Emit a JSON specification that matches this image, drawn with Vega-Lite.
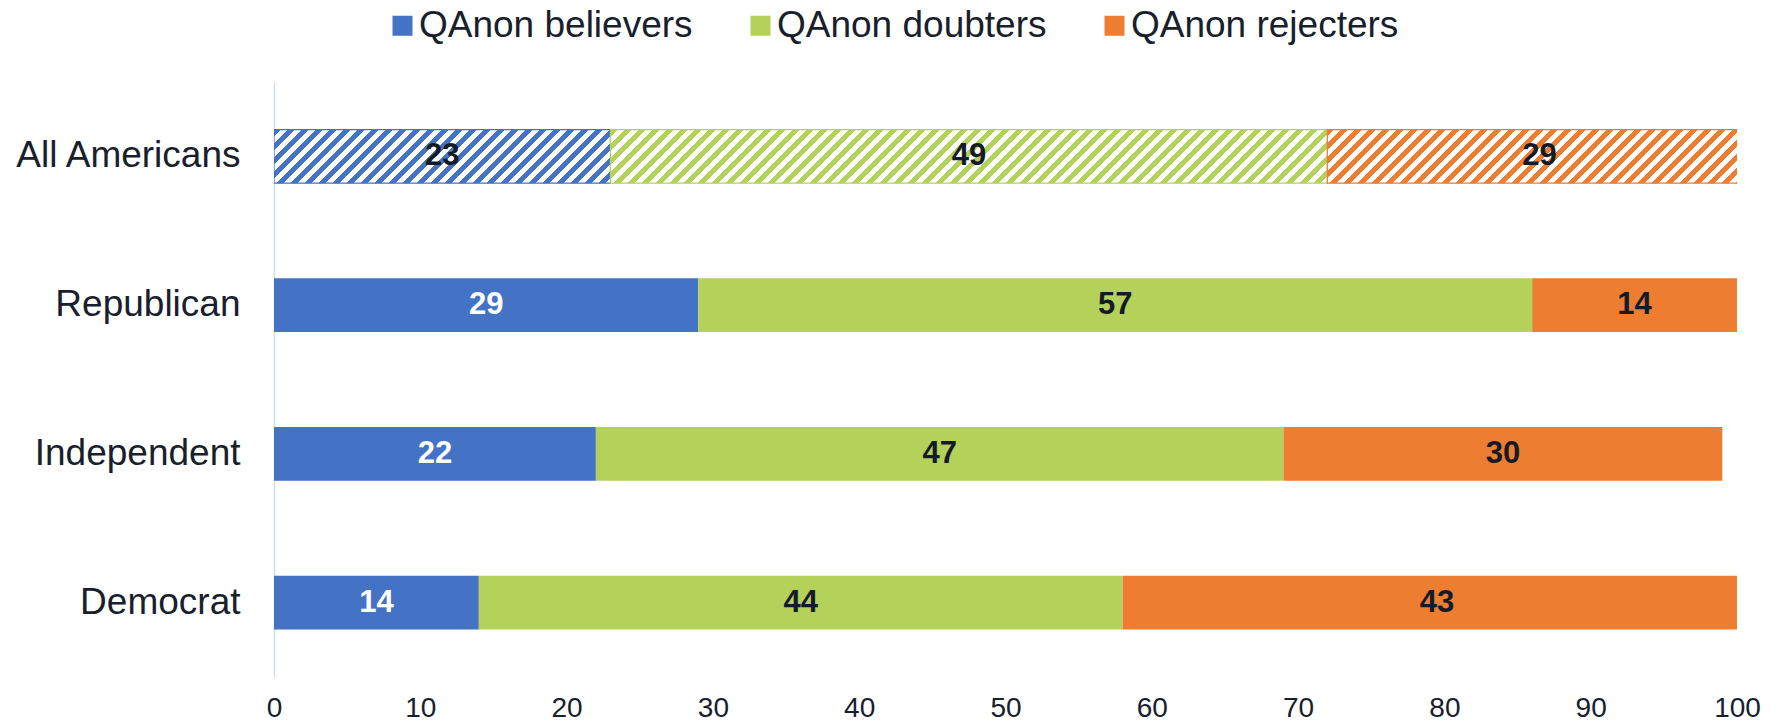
{
"$schema":"https://vega.github.io/schema/vega-lite/v6.json",
"width":1463,"height":595,
"autosize":{"type":"none"},
"padding":{"left":274,"top":82,"right":44,"bottom":45},
"background":"white",
"config":{
 "view":{"stroke":null},
 "font":"Liberation Sans",
 "axisX":{"labelFontSize":28,"labelColor":"#18202c","labelPadding":17,"ticks":false,"tickSize":0,"domain":false,"grid":false,"labelFlush":false,"tickCount":10,"labelFont":"Liberation Sans"},
 "axisY":{"labelFontSize":37,"labelColor":"#18202c","labelPadding":34,"labelLimit":0,"ticks":false,"tickSize":0,"domain":true,"domainColor":"#d3ddec","domainWidth":1.5,"grid":false,"labelFont":"Liberation Sans"}
},
"data":{"values":[
 {"group":"All Americans","category":"QAnon believers","value":23},
 {"group":"All Americans","category":"QAnon doubters","value":49},
 {"group":"All Americans","category":"QAnon rejecters","value":29},
 {"group":"Republican","category":"QAnon believers","value":29},
 {"group":"Republican","category":"QAnon doubters","value":57},
 {"group":"Republican","category":"QAnon rejecters","value":14},
 {"group":"Independent","category":"QAnon believers","value":22},
 {"group":"Independent","category":"QAnon doubters","value":47},
 {"group":"Independent","category":"QAnon rejecters","value":30},
 {"group":"Democrat","category":"QAnon believers","value":14},
 {"group":"Democrat","category":"QAnon doubters","value":44},
 {"group":"Democrat","category":"QAnon rejecters","value":43}
]},
"transform":[{"stack":"value","groupby":["group"],"sort":[{"field":"category","order":"ascending"}],"as":["x0","x1"]}],
"encoding":{
 "y":{"field":"group","type":"nominal","sort":["All Americans","Republican","Independent","Democrat"],"scale":{"paddingInner":0.64,"paddingOuter":0.32},"title":null}
},
"layer":[
 {"transform":[{"filter":"datum.group !== 'All Americans'"}],
  "mark":{"type":"bar","clip":true},
  "encoding":{
   "x":{"field":"x0","type":"quantitative","scale":{"domain":[0,100],"nice":false,"zero":true},"title":null},
   "x2":{"field":"x1"},
   "color":{"field":"category","type":"nominal","scale":{"domain":["QAnon believers","QAnon doubters","QAnon rejecters"],"range":["#4472C4","#B4D25A","#ED7D31"]},
     "legend":{"orient":"none","legendX":110,"legendY":-75,"direction":"horizontal","title":null,"symbolType":"square","symbolSize":400,"labelFontSize":37,"labelOffset":-2,"columnPadding":49,"padding":0,"labelColor":"#18202c","symbolStrokeWidth":0,"labelLimit":0,"symbolOpacity":1}}
  }},
 {"transform":[{"filter":"datum.group === 'All Americans' && datum.category === 'QAnon believers'"}],
  "mark":{"type":"bar","clip":true,"stroke":"#4472C4","strokeWidth":1.2,"fill":{"gradient":"linear","x1":0,"y1":0,"x2":1.1362,"y2":0.1808,"stops":[
{"offset":0,"color":"#4472C4"},{"offset":0.0179,"color":"#4472C4"},{"offset":0.0179,"color":"#fff"},{"offset":0.0357,"color":"#fff"},
{"offset":0.0357,"color":"#4472C4"},{"offset":0.0536,"color":"#4472C4"},{"offset":0.0536,"color":"#fff"},{"offset":0.0714,"color":"#fff"},
{"offset":0.0714,"color":"#4472C4"},{"offset":0.0893,"color":"#4472C4"},{"offset":0.0893,"color":"#fff"},{"offset":0.1071,"color":"#fff"},
{"offset":0.1071,"color":"#4472C4"},{"offset":0.125,"color":"#4472C4"},{"offset":0.125,"color":"#fff"},{"offset":0.1429,"color":"#fff"},
{"offset":0.1429,"color":"#4472C4"},{"offset":0.1607,"color":"#4472C4"},{"offset":0.1607,"color":"#fff"},{"offset":0.1786,"color":"#fff"},
{"offset":0.1786,"color":"#4472C4"},{"offset":0.1964,"color":"#4472C4"},{"offset":0.1964,"color":"#fff"},{"offset":0.2143,"color":"#fff"},
{"offset":0.2143,"color":"#4472C4"},{"offset":0.2321,"color":"#4472C4"},{"offset":0.2321,"color":"#fff"},{"offset":0.25,"color":"#fff"},
{"offset":0.25,"color":"#4472C4"},{"offset":0.2679,"color":"#4472C4"},{"offset":0.2679,"color":"#fff"},{"offset":0.2857,"color":"#fff"},
{"offset":0.2857,"color":"#4472C4"},{"offset":0.3036,"color":"#4472C4"},{"offset":0.3036,"color":"#fff"},{"offset":0.3214,"color":"#fff"},
{"offset":0.3214,"color":"#4472C4"},{"offset":0.3393,"color":"#4472C4"},{"offset":0.3393,"color":"#fff"},{"offset":0.3571,"color":"#fff"},
{"offset":0.3571,"color":"#4472C4"},{"offset":0.375,"color":"#4472C4"},{"offset":0.375,"color":"#fff"},{"offset":0.3929,"color":"#fff"},
{"offset":0.3929,"color":"#4472C4"},{"offset":0.4107,"color":"#4472C4"},{"offset":0.4107,"color":"#fff"},{"offset":0.4286,"color":"#fff"},
{"offset":0.4286,"color":"#4472C4"},{"offset":0.4464,"color":"#4472C4"},{"offset":0.4464,"color":"#fff"},{"offset":0.4643,"color":"#fff"},
{"offset":0.4643,"color":"#4472C4"},{"offset":0.4821,"color":"#4472C4"},{"offset":0.4821,"color":"#fff"},{"offset":0.5,"color":"#fff"},
{"offset":0.5,"color":"#4472C4"},{"offset":0.5179,"color":"#4472C4"},{"offset":0.5179,"color":"#fff"},{"offset":0.5357,"color":"#fff"},
{"offset":0.5357,"color":"#4472C4"},{"offset":0.5536,"color":"#4472C4"},{"offset":0.5536,"color":"#fff"},{"offset":0.5714,"color":"#fff"},
{"offset":0.5714,"color":"#4472C4"},{"offset":0.5893,"color":"#4472C4"},{"offset":0.5893,"color":"#fff"},{"offset":0.6071,"color":"#fff"},
{"offset":0.6071,"color":"#4472C4"},{"offset":0.625,"color":"#4472C4"},{"offset":0.625,"color":"#fff"},{"offset":0.6429,"color":"#fff"},
{"offset":0.6429,"color":"#4472C4"},{"offset":0.6607,"color":"#4472C4"},{"offset":0.6607,"color":"#fff"},{"offset":0.6786,"color":"#fff"},
{"offset":0.6786,"color":"#4472C4"},{"offset":0.6964,"color":"#4472C4"},{"offset":0.6964,"color":"#fff"},{"offset":0.7143,"color":"#fff"},
{"offset":0.7143,"color":"#4472C4"},{"offset":0.7321,"color":"#4472C4"},{"offset":0.7321,"color":"#fff"},{"offset":0.75,"color":"#fff"},
{"offset":0.75,"color":"#4472C4"},{"offset":0.7679,"color":"#4472C4"},{"offset":0.7679,"color":"#fff"},{"offset":0.7857,"color":"#fff"},
{"offset":0.7857,"color":"#4472C4"},{"offset":0.8036,"color":"#4472C4"},{"offset":0.8036,"color":"#fff"},{"offset":0.8214,"color":"#fff"},
{"offset":0.8214,"color":"#4472C4"},{"offset":0.8393,"color":"#4472C4"},{"offset":0.8393,"color":"#fff"},{"offset":0.8571,"color":"#fff"},
{"offset":0.8571,"color":"#4472C4"},{"offset":0.875,"color":"#4472C4"},{"offset":0.875,"color":"#fff"},{"offset":0.8929,"color":"#fff"},
{"offset":0.8929,"color":"#4472C4"},{"offset":0.9107,"color":"#4472C4"},{"offset":0.9107,"color":"#fff"},{"offset":0.9286,"color":"#fff"},
{"offset":0.9286,"color":"#4472C4"},{"offset":0.9464,"color":"#4472C4"},{"offset":0.9464,"color":"#fff"},{"offset":0.9643,"color":"#fff"},
{"offset":0.9643,"color":"#4472C4"},{"offset":0.9821,"color":"#4472C4"},{"offset":0.9821,"color":"#fff"},{"offset":1,"color":"#fff"}
]}},
  "encoding":{
   "x":{"field":"x0","type":"quantitative","scale":{"domain":[0,100],"nice":false,"zero":true},"title":null},
   "x2":{"field":"x1"}
  }},
 {"transform":[{"filter":"datum.group === 'All Americans' && datum.category === 'QAnon doubters'"}],
  "mark":{"type":"bar","clip":true,"stroke":"#B4D25A","strokeWidth":1.2,"fill":{"gradient":"linear","x1":0,"y1":0,"x2":1.0876,"y2":0.0812,"stops":[
{"offset":0,"color":"#B4D25A"},{"offset":0.0089,"color":"#B4D25A"},{"offset":0.0089,"color":"#fff"},{"offset":0.0179,"color":"#fff"},
{"offset":0.0179,"color":"#B4D25A"},{"offset":0.0268,"color":"#B4D25A"},{"offset":0.0268,"color":"#fff"},{"offset":0.0357,"color":"#fff"},
{"offset":0.0357,"color":"#B4D25A"},{"offset":0.0446,"color":"#B4D25A"},{"offset":0.0446,"color":"#fff"},{"offset":0.0536,"color":"#fff"},
{"offset":0.0536,"color":"#B4D25A"},{"offset":0.0625,"color":"#B4D25A"},{"offset":0.0625,"color":"#fff"},{"offset":0.0714,"color":"#fff"},
{"offset":0.0714,"color":"#B4D25A"},{"offset":0.0804,"color":"#B4D25A"},{"offset":0.0804,"color":"#fff"},{"offset":0.0893,"color":"#fff"},
{"offset":0.0893,"color":"#B4D25A"},{"offset":0.0982,"color":"#B4D25A"},{"offset":0.0982,"color":"#fff"},{"offset":0.1071,"color":"#fff"},
{"offset":0.1071,"color":"#B4D25A"},{"offset":0.1161,"color":"#B4D25A"},{"offset":0.1161,"color":"#fff"},{"offset":0.125,"color":"#fff"},
{"offset":0.125,"color":"#B4D25A"},{"offset":0.1339,"color":"#B4D25A"},{"offset":0.1339,"color":"#fff"},{"offset":0.1429,"color":"#fff"},
{"offset":0.1429,"color":"#B4D25A"},{"offset":0.1518,"color":"#B4D25A"},{"offset":0.1518,"color":"#fff"},{"offset":0.1607,"color":"#fff"},
{"offset":0.1607,"color":"#B4D25A"},{"offset":0.1696,"color":"#B4D25A"},{"offset":0.1696,"color":"#fff"},{"offset":0.1786,"color":"#fff"},
{"offset":0.1786,"color":"#B4D25A"},{"offset":0.1875,"color":"#B4D25A"},{"offset":0.1875,"color":"#fff"},{"offset":0.1964,"color":"#fff"},
{"offset":0.1964,"color":"#B4D25A"},{"offset":0.2054,"color":"#B4D25A"},{"offset":0.2054,"color":"#fff"},{"offset":0.2143,"color":"#fff"},
{"offset":0.2143,"color":"#B4D25A"},{"offset":0.2232,"color":"#B4D25A"},{"offset":0.2232,"color":"#fff"},{"offset":0.2321,"color":"#fff"},
{"offset":0.2321,"color":"#B4D25A"},{"offset":0.2411,"color":"#B4D25A"},{"offset":0.2411,"color":"#fff"},{"offset":0.25,"color":"#fff"},
{"offset":0.25,"color":"#B4D25A"},{"offset":0.2589,"color":"#B4D25A"},{"offset":0.2589,"color":"#fff"},{"offset":0.2679,"color":"#fff"},
{"offset":0.2679,"color":"#B4D25A"},{"offset":0.2768,"color":"#B4D25A"},{"offset":0.2768,"color":"#fff"},{"offset":0.2857,"color":"#fff"},
{"offset":0.2857,"color":"#B4D25A"},{"offset":0.2946,"color":"#B4D25A"},{"offset":0.2946,"color":"#fff"},{"offset":0.3036,"color":"#fff"},
{"offset":0.3036,"color":"#B4D25A"},{"offset":0.3125,"color":"#B4D25A"},{"offset":0.3125,"color":"#fff"},{"offset":0.3214,"color":"#fff"},
{"offset":0.3214,"color":"#B4D25A"},{"offset":0.3304,"color":"#B4D25A"},{"offset":0.3304,"color":"#fff"},{"offset":0.3393,"color":"#fff"},
{"offset":0.3393,"color":"#B4D25A"},{"offset":0.3482,"color":"#B4D25A"},{"offset":0.3482,"color":"#fff"},{"offset":0.3571,"color":"#fff"},
{"offset":0.3571,"color":"#B4D25A"},{"offset":0.3661,"color":"#B4D25A"},{"offset":0.3661,"color":"#fff"},{"offset":0.375,"color":"#fff"},
{"offset":0.375,"color":"#B4D25A"},{"offset":0.3839,"color":"#B4D25A"},{"offset":0.3839,"color":"#fff"},{"offset":0.3929,"color":"#fff"},
{"offset":0.3929,"color":"#B4D25A"},{"offset":0.4018,"color":"#B4D25A"},{"offset":0.4018,"color":"#fff"},{"offset":0.4107,"color":"#fff"},
{"offset":0.4107,"color":"#B4D25A"},{"offset":0.4196,"color":"#B4D25A"},{"offset":0.4196,"color":"#fff"},{"offset":0.4286,"color":"#fff"},
{"offset":0.4286,"color":"#B4D25A"},{"offset":0.4375,"color":"#B4D25A"},{"offset":0.4375,"color":"#fff"},{"offset":0.4464,"color":"#fff"},
{"offset":0.4464,"color":"#B4D25A"},{"offset":0.4554,"color":"#B4D25A"},{"offset":0.4554,"color":"#fff"},{"offset":0.4643,"color":"#fff"},
{"offset":0.4643,"color":"#B4D25A"},{"offset":0.4732,"color":"#B4D25A"},{"offset":0.4732,"color":"#fff"},{"offset":0.4821,"color":"#fff"},
{"offset":0.4821,"color":"#B4D25A"},{"offset":0.4911,"color":"#B4D25A"},{"offset":0.4911,"color":"#fff"},{"offset":0.5,"color":"#fff"},
{"offset":0.5,"color":"#B4D25A"},{"offset":0.5089,"color":"#B4D25A"},{"offset":0.5089,"color":"#fff"},{"offset":0.5179,"color":"#fff"},
{"offset":0.5179,"color":"#B4D25A"},{"offset":0.5268,"color":"#B4D25A"},{"offset":0.5268,"color":"#fff"},{"offset":0.5357,"color":"#fff"},
{"offset":0.5357,"color":"#B4D25A"},{"offset":0.5446,"color":"#B4D25A"},{"offset":0.5446,"color":"#fff"},{"offset":0.5536,"color":"#fff"},
{"offset":0.5536,"color":"#B4D25A"},{"offset":0.5625,"color":"#B4D25A"},{"offset":0.5625,"color":"#fff"},{"offset":0.5714,"color":"#fff"},
{"offset":0.5714,"color":"#B4D25A"},{"offset":0.5804,"color":"#B4D25A"},{"offset":0.5804,"color":"#fff"},{"offset":0.5893,"color":"#fff"},
{"offset":0.5893,"color":"#B4D25A"},{"offset":0.5982,"color":"#B4D25A"},{"offset":0.5982,"color":"#fff"},{"offset":0.6071,"color":"#fff"},
{"offset":0.6071,"color":"#B4D25A"},{"offset":0.6161,"color":"#B4D25A"},{"offset":0.6161,"color":"#fff"},{"offset":0.625,"color":"#fff"},
{"offset":0.625,"color":"#B4D25A"},{"offset":0.6339,"color":"#B4D25A"},{"offset":0.6339,"color":"#fff"},{"offset":0.6429,"color":"#fff"},
{"offset":0.6429,"color":"#B4D25A"},{"offset":0.6518,"color":"#B4D25A"},{"offset":0.6518,"color":"#fff"},{"offset":0.6607,"color":"#fff"},
{"offset":0.6607,"color":"#B4D25A"},{"offset":0.6696,"color":"#B4D25A"},{"offset":0.6696,"color":"#fff"},{"offset":0.6786,"color":"#fff"},
{"offset":0.6786,"color":"#B4D25A"},{"offset":0.6875,"color":"#B4D25A"},{"offset":0.6875,"color":"#fff"},{"offset":0.6964,"color":"#fff"},
{"offset":0.6964,"color":"#B4D25A"},{"offset":0.7054,"color":"#B4D25A"},{"offset":0.7054,"color":"#fff"},{"offset":0.7143,"color":"#fff"},
{"offset":0.7143,"color":"#B4D25A"},{"offset":0.7232,"color":"#B4D25A"},{"offset":0.7232,"color":"#fff"},{"offset":0.7321,"color":"#fff"},
{"offset":0.7321,"color":"#B4D25A"},{"offset":0.7411,"color":"#B4D25A"},{"offset":0.7411,"color":"#fff"},{"offset":0.75,"color":"#fff"},
{"offset":0.75,"color":"#B4D25A"},{"offset":0.7589,"color":"#B4D25A"},{"offset":0.7589,"color":"#fff"},{"offset":0.7679,"color":"#fff"},
{"offset":0.7679,"color":"#B4D25A"},{"offset":0.7768,"color":"#B4D25A"},{"offset":0.7768,"color":"#fff"},{"offset":0.7857,"color":"#fff"},
{"offset":0.7857,"color":"#B4D25A"},{"offset":0.7946,"color":"#B4D25A"},{"offset":0.7946,"color":"#fff"},{"offset":0.8036,"color":"#fff"},
{"offset":0.8036,"color":"#B4D25A"},{"offset":0.8125,"color":"#B4D25A"},{"offset":0.8125,"color":"#fff"},{"offset":0.8214,"color":"#fff"},
{"offset":0.8214,"color":"#B4D25A"},{"offset":0.8304,"color":"#B4D25A"},{"offset":0.8304,"color":"#fff"},{"offset":0.8393,"color":"#fff"},
{"offset":0.8393,"color":"#B4D25A"},{"offset":0.8482,"color":"#B4D25A"},{"offset":0.8482,"color":"#fff"},{"offset":0.8571,"color":"#fff"},
{"offset":0.8571,"color":"#B4D25A"},{"offset":0.8661,"color":"#B4D25A"},{"offset":0.8661,"color":"#fff"},{"offset":0.875,"color":"#fff"},
{"offset":0.875,"color":"#B4D25A"},{"offset":0.8839,"color":"#B4D25A"},{"offset":0.8839,"color":"#fff"},{"offset":0.8929,"color":"#fff"},
{"offset":0.8929,"color":"#B4D25A"},{"offset":0.9018,"color":"#B4D25A"},{"offset":0.9018,"color":"#fff"},{"offset":0.9107,"color":"#fff"},
{"offset":0.9107,"color":"#B4D25A"},{"offset":0.9196,"color":"#B4D25A"},{"offset":0.9196,"color":"#fff"},{"offset":0.9286,"color":"#fff"},
{"offset":0.9286,"color":"#B4D25A"},{"offset":0.9375,"color":"#B4D25A"},{"offset":0.9375,"color":"#fff"},{"offset":0.9464,"color":"#fff"},
{"offset":0.9464,"color":"#B4D25A"},{"offset":0.9554,"color":"#B4D25A"},{"offset":0.9554,"color":"#fff"},{"offset":0.9643,"color":"#fff"},
{"offset":0.9643,"color":"#B4D25A"},{"offset":0.9732,"color":"#B4D25A"},{"offset":0.9732,"color":"#fff"},{"offset":0.9821,"color":"#fff"},
{"offset":0.9821,"color":"#B4D25A"},{"offset":0.9911,"color":"#B4D25A"},{"offset":0.9911,"color":"#fff"},{"offset":1,"color":"#fff"}
]}},
  "encoding":{
   "x":{"field":"x0","type":"quantitative","scale":{"domain":[0,100],"nice":false,"zero":true},"title":null},
   "x2":{"field":"x1"}
  }},
 {"transform":[{"filter":"datum.group === 'All Americans' && datum.category === 'QAnon rejecters'"}],
  "mark":{"type":"bar","clip":true,"stroke":"#ED7D31","strokeWidth":1.2,"fill":{"gradient":"linear","x1":0,"y1":0,"x2":1.1368,"y2":0.1435,"stops":[
{"offset":0,"color":"#ED7D31"},{"offset":0.0143,"color":"#ED7D31"},{"offset":0.0143,"color":"#fff"},{"offset":0.0286,"color":"#fff"},
{"offset":0.0286,"color":"#ED7D31"},{"offset":0.0429,"color":"#ED7D31"},{"offset":0.0429,"color":"#fff"},{"offset":0.0571,"color":"#fff"},
{"offset":0.0571,"color":"#ED7D31"},{"offset":0.0714,"color":"#ED7D31"},{"offset":0.0714,"color":"#fff"},{"offset":0.0857,"color":"#fff"},
{"offset":0.0857,"color":"#ED7D31"},{"offset":0.1,"color":"#ED7D31"},{"offset":0.1,"color":"#fff"},{"offset":0.1143,"color":"#fff"},
{"offset":0.1143,"color":"#ED7D31"},{"offset":0.1286,"color":"#ED7D31"},{"offset":0.1286,"color":"#fff"},{"offset":0.1429,"color":"#fff"},
{"offset":0.1429,"color":"#ED7D31"},{"offset":0.1571,"color":"#ED7D31"},{"offset":0.1571,"color":"#fff"},{"offset":0.1714,"color":"#fff"},
{"offset":0.1714,"color":"#ED7D31"},{"offset":0.1857,"color":"#ED7D31"},{"offset":0.1857,"color":"#fff"},{"offset":0.2,"color":"#fff"},
{"offset":0.2,"color":"#ED7D31"},{"offset":0.2143,"color":"#ED7D31"},{"offset":0.2143,"color":"#fff"},{"offset":0.2286,"color":"#fff"},
{"offset":0.2286,"color":"#ED7D31"},{"offset":0.2429,"color":"#ED7D31"},{"offset":0.2429,"color":"#fff"},{"offset":0.2571,"color":"#fff"},
{"offset":0.2571,"color":"#ED7D31"},{"offset":0.2714,"color":"#ED7D31"},{"offset":0.2714,"color":"#fff"},{"offset":0.2857,"color":"#fff"},
{"offset":0.2857,"color":"#ED7D31"},{"offset":0.3,"color":"#ED7D31"},{"offset":0.3,"color":"#fff"},{"offset":0.3143,"color":"#fff"},
{"offset":0.3143,"color":"#ED7D31"},{"offset":0.3286,"color":"#ED7D31"},{"offset":0.3286,"color":"#fff"},{"offset":0.3429,"color":"#fff"},
{"offset":0.3429,"color":"#ED7D31"},{"offset":0.3571,"color":"#ED7D31"},{"offset":0.3571,"color":"#fff"},{"offset":0.3714,"color":"#fff"},
{"offset":0.3714,"color":"#ED7D31"},{"offset":0.3857,"color":"#ED7D31"},{"offset":0.3857,"color":"#fff"},{"offset":0.4,"color":"#fff"},
{"offset":0.4,"color":"#ED7D31"},{"offset":0.4143,"color":"#ED7D31"},{"offset":0.4143,"color":"#fff"},{"offset":0.4286,"color":"#fff"},
{"offset":0.4286,"color":"#ED7D31"},{"offset":0.4429,"color":"#ED7D31"},{"offset":0.4429,"color":"#fff"},{"offset":0.4571,"color":"#fff"},
{"offset":0.4571,"color":"#ED7D31"},{"offset":0.4714,"color":"#ED7D31"},{"offset":0.4714,"color":"#fff"},{"offset":0.4857,"color":"#fff"},
{"offset":0.4857,"color":"#ED7D31"},{"offset":0.5,"color":"#ED7D31"},{"offset":0.5,"color":"#fff"},{"offset":0.5143,"color":"#fff"},
{"offset":0.5143,"color":"#ED7D31"},{"offset":0.5286,"color":"#ED7D31"},{"offset":0.5286,"color":"#fff"},{"offset":0.5429,"color":"#fff"},
{"offset":0.5429,"color":"#ED7D31"},{"offset":0.5571,"color":"#ED7D31"},{"offset":0.5571,"color":"#fff"},{"offset":0.5714,"color":"#fff"},
{"offset":0.5714,"color":"#ED7D31"},{"offset":0.5857,"color":"#ED7D31"},{"offset":0.5857,"color":"#fff"},{"offset":0.6,"color":"#fff"},
{"offset":0.6,"color":"#ED7D31"},{"offset":0.6143,"color":"#ED7D31"},{"offset":0.6143,"color":"#fff"},{"offset":0.6286,"color":"#fff"},
{"offset":0.6286,"color":"#ED7D31"},{"offset":0.6429,"color":"#ED7D31"},{"offset":0.6429,"color":"#fff"},{"offset":0.6571,"color":"#fff"},
{"offset":0.6571,"color":"#ED7D31"},{"offset":0.6714,"color":"#ED7D31"},{"offset":0.6714,"color":"#fff"},{"offset":0.6857,"color":"#fff"},
{"offset":0.6857,"color":"#ED7D31"},{"offset":0.7,"color":"#ED7D31"},{"offset":0.7,"color":"#fff"},{"offset":0.7143,"color":"#fff"},
{"offset":0.7143,"color":"#ED7D31"},{"offset":0.7286,"color":"#ED7D31"},{"offset":0.7286,"color":"#fff"},{"offset":0.7429,"color":"#fff"},
{"offset":0.7429,"color":"#ED7D31"},{"offset":0.7571,"color":"#ED7D31"},{"offset":0.7571,"color":"#fff"},{"offset":0.7714,"color":"#fff"},
{"offset":0.7714,"color":"#ED7D31"},{"offset":0.7857,"color":"#ED7D31"},{"offset":0.7857,"color":"#fff"},{"offset":0.8,"color":"#fff"},
{"offset":0.8,"color":"#ED7D31"},{"offset":0.8143,"color":"#ED7D31"},{"offset":0.8143,"color":"#fff"},{"offset":0.8286,"color":"#fff"},
{"offset":0.8286,"color":"#ED7D31"},{"offset":0.8429,"color":"#ED7D31"},{"offset":0.8429,"color":"#fff"},{"offset":0.8571,"color":"#fff"},
{"offset":0.8571,"color":"#ED7D31"},{"offset":0.8714,"color":"#ED7D31"},{"offset":0.8714,"color":"#fff"},{"offset":0.8857,"color":"#fff"},
{"offset":0.8857,"color":"#ED7D31"},{"offset":0.9,"color":"#ED7D31"},{"offset":0.9,"color":"#fff"},{"offset":0.9143,"color":"#fff"},
{"offset":0.9143,"color":"#ED7D31"},{"offset":0.9286,"color":"#ED7D31"},{"offset":0.9286,"color":"#fff"},{"offset":0.9429,"color":"#fff"},
{"offset":0.9429,"color":"#ED7D31"},{"offset":0.9571,"color":"#ED7D31"},{"offset":0.9571,"color":"#fff"},{"offset":0.9714,"color":"#fff"},
{"offset":0.9714,"color":"#ED7D31"},{"offset":0.9857,"color":"#ED7D31"},{"offset":0.9857,"color":"#fff"},{"offset":1,"color":"#fff"}
]}},
  "encoding":{
   "x":{"field":"x0","type":"quantitative","scale":{"domain":[0,100],"nice":false,"zero":true},"title":null},
   "x2":{"field":"x1"}
  }},
 {"mark":{"type":"text","fontSize":31,"fontWeight":"bold","font":"Liberation Sans","baseline":"middle","align":"center"},
  "encoding":{
   "x":{"field":"value","type":"quantitative","stack":"zero","bandPosition":0.5,"scale":{"domain":[0,100],"nice":false,"zero":true},"title":null},
   "detail":{"field":"category","type":"nominal"},
   "order":{"field":"category","type":"nominal","sort":"ascending"},
   "text":{"field":"value","type":"quantitative"},
   "color":{"condition":{"test":"datum.category === 'QAnon believers' && datum.group !== 'All Americans'","value":"#ffffff"},"value":"#151b26"}
  }}
]
}
